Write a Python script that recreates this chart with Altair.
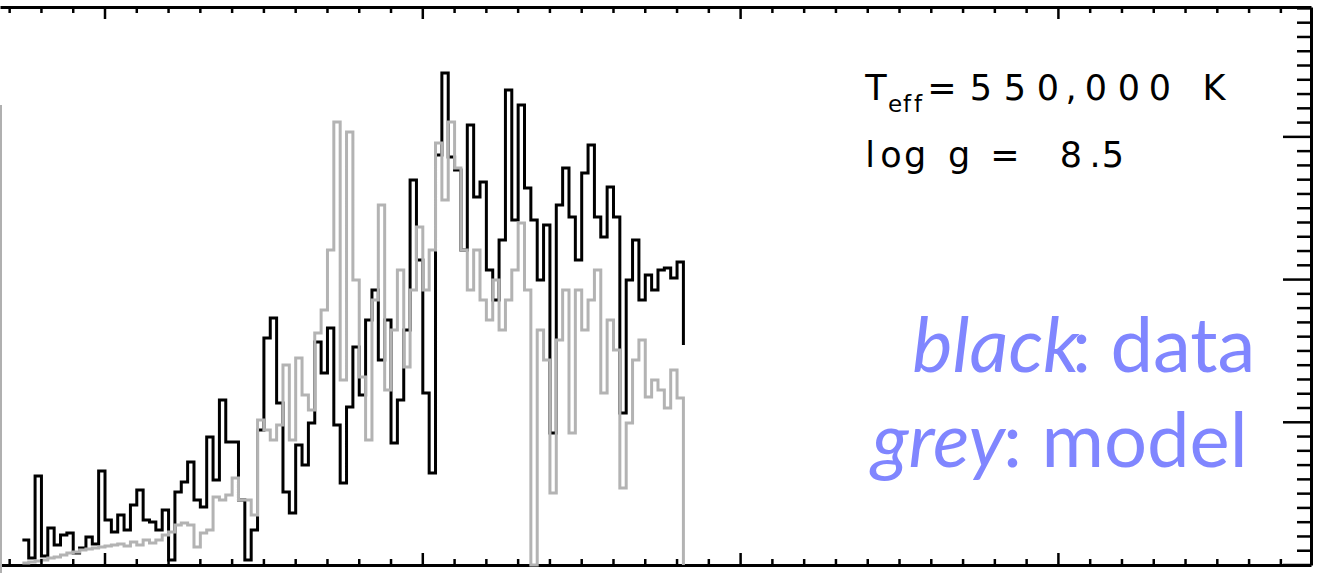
import altair as alt
import numpy as np
import pandas as pd

# Spectral grid: 0.1 Å bins starting at 18.7 Å (last entry closes the final bin)
LAMBDA_START = 18.7
BIN_WIDTH = 0.1

# observed spectrum (black)
data_flux = [
    1.75, 0.49, 6.24, 0.63, 2.59, 1.40, 2.10, 2.24, 0.84, 1.19,
    1.96, 1.47, 6.59, 3.15, 2.31, 3.50, 2.45, 4.20, 5.26, 3.15,
    3.01, 2.45, 3.85, 0.35, 5.12, 5.82, 7.22, 4.56, 4.06, 8.97,
    5.96, 11.56, 8.62, 8.62, 4.56, 0.35, 2.45, 9.46, 15.91, 17.31,
    11.35, 5.12, 3.64, 8.41, 7.01, 9.95, 15.63, 13.45, 16.61, 9.81,
    5.75, 11.07, 15.28, 11.91, 17.17, 19.27, 14.37, 17.17, 8.55, 11.56,
    16.47, 26.98, 21.37, 12.05, 6.45, 28.73, 34.48, 28.59, 27.68, 22.07,
    30.83, 25.79, 26.84, 20.67, 18.57, 22.78, 33.29, 24.18, 32.24, 26.42,
    24.18, 19.97, 23.83, 9.25, 25.23, 27.82, 24.39, 21.37, 27.47, 29.43,
    24.39, 22.99, 26.49, 24.39, 10.65, 19.97, 22.78, 18.57, 20.32, 19.27,
    20.67, 20.81, 20.11, 21.23, 15.42,
]

# model spectrum (grey)
model_flux = [
    0.14, 0.21, 0.28, 0.35, 0.49, 0.56, 0.70, 0.84, 0.91, 1.05,
    1.12, 1.19, 1.26, 1.33, 1.40, 1.47, 1.33, 1.61, 1.40, 1.75,
    1.54, 1.75, 2.10, 2.31, 2.80, 2.94, 2.80, 1.26, 2.24, 2.45,
    4.77, 4.56, 4.91, 6.10, 4.56, 4.56, 3.50, 10.16, 9.46, 8.76,
    9.81, 14.02, 8.76, 14.51, 11.91, 10.86, 16.26, 17.87, 22.07, 31.04,
    12.96, 30.34, 19.97, 13.17, 8.76, 18.57, 25.23, 12.26, 16.47, 20.67,
    13.88, 19.27, 23.69, 19.27, 22.07, 29.57, 25.58, 31.04, 27.82, 22.07,
    19.27, 22.07, 18.57, 17.17, 19.97, 16.47, 18.57, 20.67, 23.97, 19.27,
    0.00, 16.47, 14.37, 5.05, 15.77, 19.27, 9.25, 19.27, 16.47, 18.57,
    20.67, 12.05, 17.17, 15.07, 5.40, 9.95, 14.37, 15.77, 11.77, 12.96,
    12.26, 11.00, 13.66, 11.70, 0.00,
]

wavelength = [round(LAMBDA_START + BIN_WIDTH * i, 2) for i in range(len(data_flux))]

# axis ranges and tick positions
X_RANGE = [18.348, 38.974]
Y_RANGE = [0, 39.1]
x_major = [20, 25, 30, 35]
x_minor = [v for v in np.arange(18.5, 39.0, 0.5).round(1).tolist() if v not in x_major]
y_major = [0, 10, 20, 30]
y_minor = [v for v in range(1, 40) if v not in y_major]

W, H = 1311, 558

spec = pd.DataFrame({"wavelength": wavelength, "data": data_flux, "model": model_flux})
xs = alt.Scale(domain=X_RANGE, nice=False, zero=False)
ys = alt.Scale(domain=Y_RANGE, nice=False, zero=False)


def frame_axis(orient):
    return alt.Axis(orient=orient, domain=True, domainColor="black", domainWidth=3,
                    ticks=False, labels=False, grid=False, title=None)


observed = alt.Chart(spec).mark_line(
    color="black", strokeWidth=3, interpolate="step-after", strokeJoin="miter"
).encode(
    x=alt.X("wavelength:Q", scale=xs, axis=frame_axis("bottom")),
    y=alt.Y("data:Q", scale=ys, axis=frame_axis("right")),
)

model = alt.Chart(spec).mark_line(
    color="#b3b3b3", strokeWidth=3, interpolate="step-after", strokeJoin="miter"
).encode(
    x=alt.X("wavelength:Q", scale=xs, axis=frame_axis("top")),
    y=alt.Y("model:Q", scale=ys, axis=None),
)


def x_ticks(values, y0, y1):
    return alt.Chart(pd.DataFrame({"t": values})).mark_rule(color="black", strokeWidth=2.5).encode(
        x=alt.X("t:Q", scale=xs, axis=None), y=alt.value(y0), y2=alt.value(y1))


def y_ticks(values, length):
    return alt.Chart(pd.DataFrame({"t": values})).mark_rule(color="black", strokeWidth=2.5).encode(
        y=alt.Y("t:Q", scale=ys, axis=None), x=alt.value(W), x2=alt.value(W - length))


ticks = [
    x_ticks(x_minor, H, H - 6), x_ticks(x_major, H, H - 12),
    x_ticks(x_minor, 0, 6), x_ticks(x_major, 0, 12),
    y_ticks(y_minor, 14), y_ticks(y_major, 28),
]

edge = alt.Chart(pd.DataFrame({"a": [0]})).mark_rule(color="#b0b0b0", strokeWidth=2).encode(
    x=alt.value(1), y=alt.value(98), y2=alt.value(566))


def label(text, x, y, size, color="black", font="DejaVu Sans", align="center", style="normal"):
    return alt.Chart(pd.DataFrame({"s": [text]})).mark_text(
        font=font, fontSize=size, color=color, align=align, baseline="alphabetic", fontStyle=style
    ).encode(text="s:N", x=alt.value(x), y=alt.value(y))


# stellar parameters, glyph by glyph
teff_line = [("T", 876), ("=", 942), ("5", 981), ("5", 1015), ("0", 1048), (",", 1071),
             ("0", 1096), ("0", 1129), ("0", 1160), ("K", 1214)]
sub_line = [("e", 895), ("f", 907), ("f", 918)]
logg_line = [("l", 870), ("o", 891), ("g", 915), ("g", 959), ("=", 1005), ("8", 1071),
             (".", 1095), ("5", 1113)]

texts = []
for ch, x in teff_line:
    texts.append(label(ch, x, 93, 35))
for ch, x in sub_line:
    texts.append(label(ch, x, 105, 23))
for ch, x in logg_line:
    texts.append(label(ch, x, 160, 35))

BLUE = "#8086ff"
texts += [
    label("black", 1079, 365, 76, BLUE, "Lato", "right", "italic"),
    label(": data", 1072, 365, 76, BLUE, "Lato", "left"),
    label("grey", 1005, 460, 76, BLUE, "Lato", "right", "italic"),
    label(": model", 1003, 460, 76, BLUE, "Lato", "left"),
]

chart = alt.layer(observed, model, *ticks, edge, *texts).resolve_axis(
    x="independent", y="independent"
).properties(
    width=W, height=H,
    autosize=alt.AutoSizeParams(type="none"),
    padding={"left": 0, "top": 7, "right": 15, "bottom": 8},
    background="white",
).configure_view(stroke=None)

chart.save("out.html", embed_options={"renderer": "svg", "actions": False})
